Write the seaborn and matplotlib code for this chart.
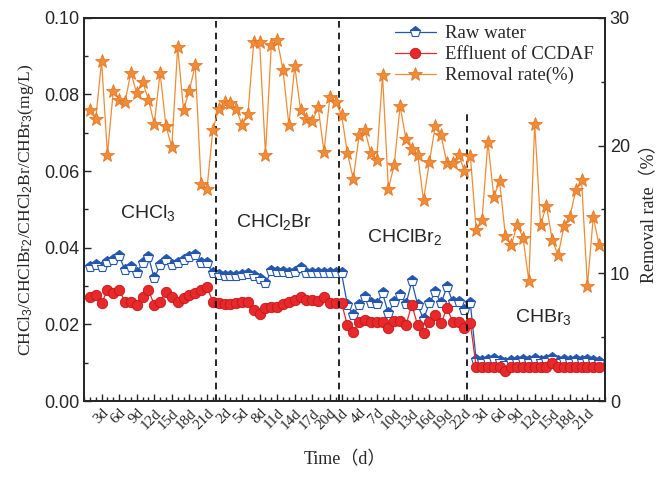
import numpy as np
import pandas as pd
import matplotlib
matplotlib.use('Agg')
import matplotlib.pyplot as plt
import seaborn as sns
from matplotlib.ticker import MultipleLocator, FixedLocator

# Data (4 periods: CHCl3, CHCl2Br, CHClBr2, CHBr3)
raw_chcl3 = [0.0351, 0.0355, 0.0351, 0.0364, 0.0368, 0.0379, 0.0342, 0.0351, 0.0335, 0.0360, 0.0377,
             0.0320, 0.0355, 0.0368, 0.0355, 0.0360, 0.0368, 0.0377, 0.0381, 0.0360, 0.0360, 0.0333]
raw_chcl2br = [0.0329, 0.0326, 0.0326, 0.0326, 0.0329, 0.0332, 0.0325, 0.0318, 0.0307, 0.0340, 0.0338,
               0.0338, 0.0335, 0.0338, 0.0346, 0.0335, 0.0335, 0.0335, 0.0335, 0.0335, 0.0333]
raw_chclbr2 = [0.0333, 0.0251, 0.0225, 0.0251, 0.0272, 0.0255, 0.0253, 0.0281, 0.0229, 0.0259, 0.0277,
               0.0253, 0.0312, 0.0251, 0.0213, 0.0255, 0.0285, 0.0255, 0.0298, 0.0259, 0.0259, 0.0238]
raw_chbr3 = [0.0255, 0.0107, 0.0105, 0.0107, 0.0109, 0.0105, 0.0099, 0.0105, 0.0105, 0.0107, 0.0105, 0.0109,
             0.0105, 0.0107, 0.0111, 0.0105, 0.0107, 0.0105, 0.0107, 0.0105, 0.0107, 0.0105, 0.0103]

eff_chcl3 = [0.0272, 0.0277, 0.0255, 0.0290, 0.0281, 0.0290, 0.0259, 0.0259, 0.0251, 0.0272, 0.0290,
             0.0251, 0.0259, 0.0285, 0.0272, 0.0259, 0.0268, 0.0277, 0.0281, 0.0290, 0.0298, 0.0259]
eff_chcl2br = [0.0255, 0.0253, 0.0253, 0.0255, 0.0259, 0.0259, 0.0238, 0.0227, 0.0242, 0.0246, 0.0246,
               0.0253, 0.0259, 0.0264, 0.0272, 0.0264, 0.0264, 0.0262, 0.0271, 0.0255, 0.0255]
eff_chclbr2 = [0.0255, 0.0198, 0.0181, 0.0207, 0.0211, 0.0207, 0.0207, 0.0207, 0.0190, 0.0210, 0.0210,
               0.0198, 0.0251, 0.0198, 0.0178, 0.0205, 0.0225, 0.0203, 0.0242, 0.0207, 0.0205, 0.0190]
eff_chbr3 = [0.0203, 0.0089, 0.0089, 0.0089, 0.0089, 0.0089, 0.0078, 0.0089, 0.0089, 0.0089, 0.0089, 0.0089,
             0.0089, 0.0089, 0.0099, 0.0089, 0.0089, 0.0089, 0.0089, 0.0089, 0.0089, 0.0089, 0.0089]

rate_chcl3 = [22.8, 22.1, 26.6, 19.3, 24.3, 23.6, 23.4, 25.7, 24.1, 25.0, 23.6,
              21.7, 25.7, 21.5, 19.9, 27.7, 22.8, 24.3, 26.3, 17.0, 16.6, 21.2]
rate_chcl2br = [22.9, 23.4, 23.3, 22.9, 21.6, 22.5, 28.1, 28.1, 19.3, 27.9, 28.3,
                25.9, 21.6, 26.2, 22.8, 22.1, 21.9, 23.0, 19.5, 23.8, 23.4]
rate_chclbr2 = [22.4, 19.4, 17.4, 20.8, 21.2, 19.4, 18.9, 25.5, 16.6, 18.5, 23.1,
                20.5, 19.7, 19.3, 15.7, 18.7, 21.5, 20.8, 18.6, 18.6, 19.3, 18.0]
rate_chbr3 = [19.2, 13.4, 14.2, 20.3, 16.0, 17.2, 12.9, 12.2, 13.8, 12.8, 9.4, 21.7,
              13.8, 15.3, 12.6, 11.4, 13.7, 14.4, 16.5, 17.3, 9.0, 14.4, 12.2]

periods = ['CHCl$_3$', 'CHCl$_2$Br', 'CHClBr$_2$', 'CHBr$_3$']
label_days = [[3, 6, 9, 12, 15, 18, 21],
              [2, 5, 8, 11, 14, 17, 20],
              [1, 4, 7, 10, 13, 16, 19, 22],
              [3, 6, 9, 12, 15, 18, 21]]

raw = raw_chcl3 + raw_chcl2br + raw_chclbr2 + raw_chbr3
eff = eff_chcl3 + eff_chcl2br + eff_chclbr2 + eff_chbr3
rate = rate_chcl3 + rate_chcl2br + rate_chclbr2 + rate_chbr3
seg_len = [len(raw_chcl3), len(raw_chcl2br), len(raw_chclbr2), len(raw_chbr3)]

df = pd.DataFrame({'idx': np.arange(1, len(raw) + 1), 'raw': raw, 'eff': eff, 'rate': rate})

# tick positions / labels
starts = np.cumsum([0] + seg_len[:-1])
tick_pos, tick_lab = [], []
for s, days in zip(starts, label_days):
    for d in days:
        tick_pos.append(s + d)
        tick_lab.append(f'{d}d')
bounds = [s + 0.5 for s in np.cumsum(seg_len)[:-1]]

sns.set_theme(style='ticks')
plt.rcParams['font.family'] = ['Liberation Sans', 'DejaVu Sans']
plt.rcParams['mathtext.fontset'] = 'custom'
plt.rcParams['mathtext.rm'] = 'Liberation Sans'
plt.rcParams['mathtext.it'] = 'Liberation Sans:italic'
plt.rcParams['xtick.direction'] = 'in'
plt.rcParams['ytick.direction'] = 'in'

serif = ['Liberation Serif', 'Noto Sans CJK SC']
blue = '#2456b0'
red = '#e8282a'
orange = '#f28b35'

fig = plt.figure(figsize=(6.59, 4.82), dpi=100)
ax = fig.add_axes([0.1275, 0.168, 0.7905, 0.795])
ax2 = ax.twinx()

sns.lineplot(data=df, x='idx', y='raw', ax=ax, color=blue, lw=0.9, marker='p', markersize=8,
             fillstyle='top', markerfacecoloralt='white', markeredgecolor=blue, markeredgewidth=0.8,
             label='Raw water', legend=False)
sns.lineplot(data=df, x='idx', y='eff', ax=ax, color=red, lw=0.9, marker='o', markersize=7.5,
             markeredgecolor='#c01818', markeredgewidth=0.6, label='Effluent of CCDAF', legend=False)
sns.lineplot(data=df, x='idx', y='rate', ax=ax2, color=orange, lw=0.9, marker='*', markersize=10,
             markeredgecolor='#e07020', markeredgewidth=0.5, label='Removal rate(%)', legend=False)

for i, b in enumerate(bounds):
    top = 0.748 if i == 2 else 1.0
    ax.axvline(b, ymin=0, ymax=top, color='black', ls=(0, (4, 3)), lw=1.2)

ax.set_xlim(0, 89)
ax.set_ylim(0, 0.1)
ax2.set_ylim(0, 30)
ax.yaxis.set_major_locator(MultipleLocator(0.02))
ax.yaxis.set_minor_locator(MultipleLocator(0.01))
ax.yaxis.set_major_formatter(matplotlib.ticker.FormatStrFormatter('%.2f'))
ax2.yaxis.set_major_locator(MultipleLocator(10))
ax2.yaxis.set_minor_locator(MultipleLocator(5))

ax.xaxis.set_major_locator(FixedLocator(tick_pos))
ax.xaxis.set_minor_locator(MultipleLocator(1))
ax.set_xticklabels(tick_lab, rotation=45, ha='right', rotation_mode='anchor', family=serif, fontsize=11)
ax.tick_params(axis='x', which='major', length=5, width=1, pad=4)
ax.tick_params(axis='x', which='minor', length=3, width=1)
ax.tick_params(axis='y', which='major', length=5, width=1, labelsize=13)
ax.tick_params(axis='y', which='minor', length=3, width=1)
ax2.tick_params(axis='y', which='major', length=5, width=1, labelsize=13)
ax2.tick_params(axis='y', which='minor', length=3, width=1)
for sp in ax.spines.values():
    sp.set_linewidth(1.3)
for sp in ax2.spines.values():
    sp.set_linewidth(1.3)

ax.set_xlabel('Time（d）', family=serif, fontsize=13, labelpad=14)
ax.set_ylabel(r'CHCl$_3$/CHClBr$_2$/CHCl$_2$Br/CHBr$_3$(mg/L)', family=serif, fontsize=12.5, labelpad=6)
ax2.set_ylabel('Removal rate（%）', family=serif, fontsize=13, labelpad=8)

# period labels
text_x = [10.9, 32.5, 54.7, 78.5]
text_y = [0.049, 0.0467, 0.0428, 0.0219]
for name, tx, ty in zip(periods, text_x, text_y):
    ax.text(tx, ty, name, ha='center', va='center', fontsize=14)

h1, l1 = ax.get_legend_handles_labels()
h2, l2 = ax2.get_legend_handles_labels()
ax2.legend(h1 + h2, l1 + l2, loc='upper left', bbox_to_anchor=(0.575, 1.01), frameon=False,
           prop={'family': serif, 'size': 13.5}, handlelength=2.2, handletextpad=0.5,
           labelspacing=0.2, borderaxespad=0.2)

fig.savefig('out.png', dpi=100)
